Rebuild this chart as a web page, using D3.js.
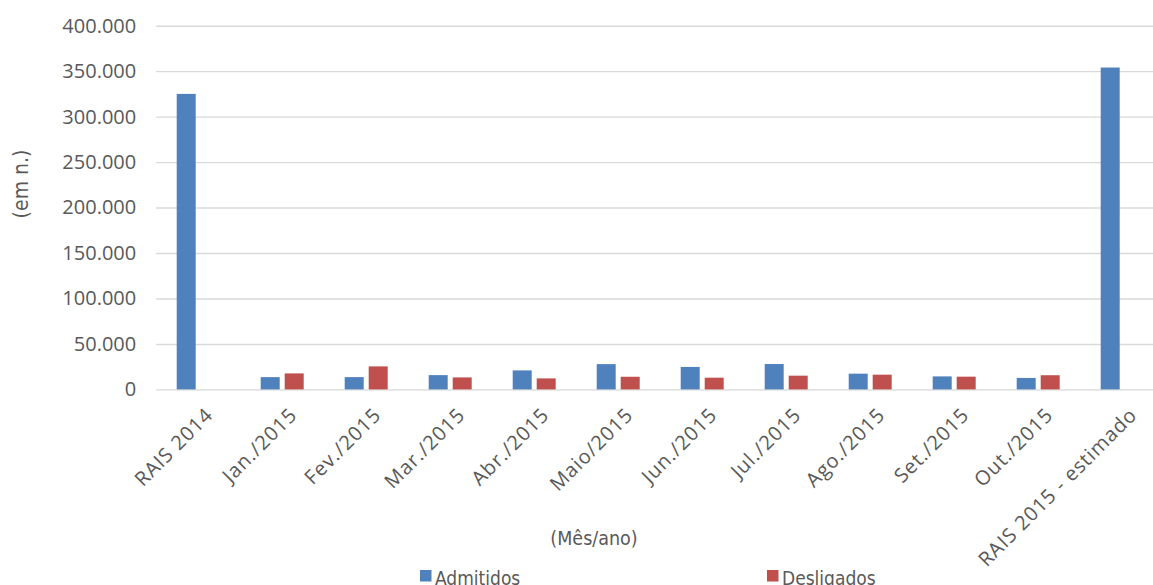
<!DOCTYPE html>
<html>
<head>
<meta charset="utf-8">
<script src="https://cdn.jsdelivr.net/npm/d3@7"></script>
<style>
  html, body { margin: 0; padding: 0; background: #fff; }
  svg { display: block; }
</style>
</head>
<body>
<svg id="chart" width="1153" height="585"></svg>
<script>
// Admissões e desligamentos por mês (em n.)
const categories = ["RAIS 2014", "Jan./2015", "Fev./2015", "Mar./2015", "Abr./2015", "Maio/2015",
  "Jun./2015", "Jul./2015", "Ago./2015", "Set./2015", "Out./2015", "RAIS 2015 - estimado"];
const seriesNames = ["Admitidos", "Desligados"];
const admitidos = [325000, 13500, 13500, 15700, 20900, 27800, 24700, 27900, 17300, 14300, 12600, 354000];
const desligados = [null, 17600, 25300, 13200, 12100, 13900, 12900, 15100, 16200, 14000, 15600, null];
const yTicks = [0, 50000, 100000, 150000, 200000, 250000, 300000, 350000, 400000];
const colors = ["#4F81BD", "#C0504D"];

const svg = d3.select("#chart");
const textColor = "#595959";
const plot = { left: 156.2, right: 1164.2, top: 25.7, bottom: 389.4 };

const x = d3.scaleBand().domain(categories).range([plot.left, plot.right]).padding(0);
const groupWidth = 43;
const xs = d3.scaleBand().domain(seriesNames)
  .range([x.bandwidth() / 2 - groupWidth / 2, x.bandwidth() / 2 + groupWidth / 2])
  .paddingInner(0.2083).paddingOuter(0);
const y = d3.scaleLinear().domain([0, 400000]).range([plot.bottom, plot.top]);

const fmt = v => d3.format(",")(v).replace(/,/g, ".");

// Grid lines and value axis
const yAxis = d3.axisLeft(y).tickValues(yTicks).tickFormat(fmt).tickSize(-(plot.right - plot.left)).tickPadding(20);
const gy = svg.append("g").attr("transform", `translate(${plot.left},0)`).call(yAxis);
gy.select(".domain").remove();
gy.selectAll(".tick line").attr("stroke", "#D9D9D9").attr("stroke-width", 1.4);
gy.selectAll(".tick text")
  .attr("fill", textColor)
  .style("font-family", "'Open Sans', sans-serif")
  .style("font-size", "20px");

// Bars
const rows = categories.map((c, i) => ({ cat: c, vals: [admitidos[i], desligados[i]] }));
const groups = svg.append("g").selectAll("g").data(rows).join("g")
  .attr("transform", d => `translate(${x(d.cat)},0)`);
groups.selectAll("rect")
  .data(d => d.vals.map((v, k) => ({ name: seriesNames[k], v, k })).filter(e => e.v != null))
  .join("rect")
  .attr("x", e => xs(e.name))
  .attr("width", xs.bandwidth())
  .attr("y", e => y(e.v))
  .attr("height", e => y(0) - y(e.v))
  .attr("fill", e => colors[e.k]);

// Category axis
const xAxis = d3.axisBottom(x).tickSize(0).tickPadding(0);
const gx = svg.append("g").attr("transform", `translate(0,${plot.bottom})`).call(xAxis);
gx.select(".domain").remove();
gx.selectAll(".tick text")
  .attr("fill", textColor)
  .style("font-family", "'Open Sans', sans-serif")
  .style("font-size", "20px")
  .style("letter-spacing", "0.9px")
  .attr("text-anchor", "end")
  .attr("dy", "0.35em")
  .attr("y", 0)
  .attr("transform", "translate(11,22) rotate(-45)");

// Axis titles
svg.append("text")
  .attr("transform", "translate(21,184) rotate(-90)")
  .attr("text-anchor", "middle")
  .attr("dy", "0.35em")
  .attr("fill", textColor)
  .style("font-family", "'DejaVu Sans Condensed', 'DejaVu Sans', sans-serif")
  .style("font-size", "21px")
  .text("(em n.)");

svg.append("text")
  .attr("x", 594)
  .attr("y", 545)
  .attr("text-anchor", "middle")
  .attr("fill", textColor)
  .style("font-family", "'DejaVu Sans Condensed', 'DejaVu Sans', sans-serif")
  .style("font-size", "19.5px")
  .text("(Mês/ano)");

// Legend
const legendX = [420, 767];
const legend = svg.append("g").selectAll("g").data(seriesNames).join("g")
  .attr("transform", (d, i) => `translate(${legendX[i]},570)`);
legend.append("rect").attr("width", 11.5).attr("height", 11.5).attr("fill", (d, i) => colors[i]);
legend.append("text")
  .attr("x", 15)
  .attr("y", 14.5)
  .attr("fill", textColor)
  .style("font-family", "'DejaVu Sans Condensed', 'DejaVu Sans', sans-serif")
  .style("font-size", "19px")
  .text(d => d);
</script>
</body>
</html>
